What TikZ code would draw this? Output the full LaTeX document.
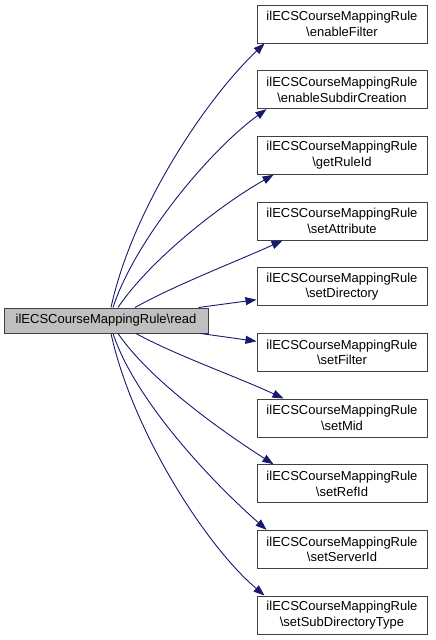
\documentclass[tikz,border=0pt]{standalone}
\usepackage{fontspec}
\setmainfont{Liberation Sans}
\usetikzlibrary{arrows.meta}
\definecolor{edgeblue}{RGB}{25,25,112}
\definecolor{boxgray}{RGB}{64,64,64}
\definecolor{fillgray}{RGB}{191,191,191}
\tikzset{
  fn/.style={draw=boxgray, line width=1pt, fill=white, minimum width=170pt, minimum height=38pt, inner sep=0pt, align=center, font=\fontsize{13}{15.5}\selectfont},
  root/.style={draw=boxgray, line width=1pt, fill=fillgray, minimum width=204pt, minimum height=25pt, inner sep=0pt, font=\fontsize{13}{15.5}\selectfont},
  call/.style={draw=edgeblue, line width=0.9pt, -{Triangle[length=11pt,width=8pt]}}
}
\begin{document}
\begin{tikzpicture}[x=1pt,y=-1pt]
\useasboundingbox[fill=white] (0,0) rectangle (436,640);
\node[root] (read) at (106,320.5) {ilECSCourseMappingRule\textbackslash read};
\node[fn] (n1) at (342,24.0) {ilECSCourseMappingRule\\\textbackslash enableFilter};
\node[fn] (n2) at (342,89.7) {ilECSCourseMappingRule\\\textbackslash enableSubdirCreation};
\node[fn] (n3) at (342,155.3) {ilECSCourseMappingRule\\\textbackslash getRuleId};
\node[fn] (n4) at (342,221.0) {ilECSCourseMappingRule\\\textbackslash setAttribute};
\node[fn] (n5) at (342,286.7) {ilECSCourseMappingRule\\\textbackslash setDirectory};
\node[fn] (n6) at (342,352.3) {ilECSCourseMappingRule\\\textbackslash setFilter};
\node[fn] (n7) at (342,418.0) {ilECSCourseMappingRule\\\textbackslash setMid};
\node[fn] (n8) at (342,483.7) {ilECSCourseMappingRule\\\textbackslash setRefId};
\node[fn] (n9) at (342,549.3) {ilECSCourseMappingRule\\\textbackslash setServerId};
\node[fn] (n10) at (342,615.0) {ilECSCourseMappingRule\\\textbackslash setSubDirectoryType};

\draw[call] ([xshift=5pt]read.north) .. controls (132,210) and (205,100) .. ([xshift=8pt]n1.south west);
\draw[call] ([xshift=7pt]read.north) .. controls (135,240) and (210,150) .. ([xshift=10pt]n2.south west);
\draw[call] ([xshift=12pt]read.north) .. controls (150,260) and (220,205) .. ([xshift=17pt]n3.south west);
\draw[call] ([xshift=29pt]read.north) .. controls (175,285) and (240,260) .. ([xshift=26pt]n4.south west);
\draw[call] ([xshift=-10pt]read.north east) -- ([yshift=-13pt]n5.west);
\draw[call] ([xshift=-8pt]read.south east) -- ([yshift=11pt]n6.west);
\draw[call] ([xshift=30pt]read.south) .. controls (175,355) and (240,378) .. ([xshift=27pt]n7.north west);
\draw[call] ([xshift=12pt]read.south) .. controls (150,380) and (220,430) .. ([xshift=17pt]n8.north west);
\draw[call] ([xshift=7pt]read.south) .. controls (135,400) and (210,480) .. ([xshift=10pt]n9.north west);
\draw[call] ([xshift=5pt]read.south) .. controls (132,430) and (205,545) .. ([xshift=8pt]n10.north west);
\end{tikzpicture}
\end{document}
